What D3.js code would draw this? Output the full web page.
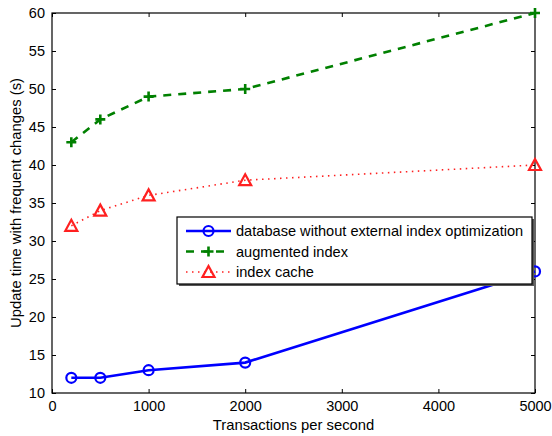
<!DOCTYPE html>
<html>
<head>
<meta charset="utf-8">
<script src="https://cdn.jsdelivr.net/npm/d3@7"></script>
<style>
  body { margin: 0; background: #fff; }
  text { font-family: "Liberation Sans", Arial, sans-serif; fill: #000; }
</style>
</head>
<body>
<script>
const xValues = [200, 500, 1000, 2000, 5000];
const dbNoOpt = [12, 12, 13, 14, 26];
const augmented = [43, 46, 49, 50, 60];
const indexCache = [32, 34, 36, 38, 40];
const xTicks = [0, 1000, 2000, 3000, 4000, 5000];
const yTicks = [10, 15, 20, 25, 30, 35, 40, 45, 50, 55, 60];
const seriesNames = ["database without external index optimization", "augmented index", "index cache"];

const svgWidth = 552, svgHeight = 436;
const margin = {top: 13, right: 17, bottom: 43, left: 52};
const chartWidth = svgWidth - margin.left - margin.right;
const chartHeight = svgHeight - margin.top - margin.bottom;

const svg = d3.select("body").append("svg")
    .attr("width", svgWidth)
    .attr("height", svgHeight);

const g = svg.append("g")
    .attr("transform", `translate(${margin.left},${margin.top})`);

const x = d3.scaleLinear().domain([0, 5000]).range([0, chartWidth]);
const y = d3.scaleLinear().domain([10, 60]).range([chartHeight, 0]);

// axes, ticks pointing inward on all four sides
function styleAxis(sel) {
    sel.select(".domain").remove();
    sel.selectAll("line").attr("stroke", "#000");
    sel.selectAll("text").style("font-size", "14.5px");
}
g.append("g").attr("transform", `translate(0,${chartHeight})`)
    .call(d3.axisBottom(x).tickValues(xTicks).tickSizeInner(-4).tickPadding(8).tickFormat(d3.format("d")))
    .call(styleAxis);
g.append("g")
    .call(d3.axisLeft(y).tickValues(yTicks).tickSizeInner(-4).tickPadding(7))
    .call(styleAxis);
g.append("g")
    .call(d3.axisTop(x).tickValues(xTicks).tickSizeInner(-4).tickFormat(""))
    .call(styleAxis);
g.append("g").attr("transform", `translate(${chartWidth},0)`)
    .call(d3.axisRight(y).tickValues(yTicks).tickSizeInner(-4).tickFormat(""))
    .call(styleAxis);

g.append("rect")
    .attr("width", chartWidth).attr("height", chartHeight)
    .attr("fill", "none").attr("stroke", "#000").attr("stroke-width", 1.2);

const series = [
    {name: seriesNames[0], values: dbNoOpt, color: "#0000ff", dash: null, marker: "circle"},
    {name: seriesNames[1], values: augmented, color: "#008000", dash: "8,7", marker: "plus"},
    {name: seriesNames[2], values: indexCache, color: "#ff2020", dash: "1.5,4.5", marker: "triangle"}
];

const line = d3.line().x((d, i) => x(xValues[i])).y(d => y(d));

function drawMarker(sel, type, color) {
    if (type === "circle") {
        sel.append("circle").attr("r", 5)
            .attr("fill", "none").attr("stroke", color).attr("stroke-width", 2.2);
    } else if (type === "plus") {
        sel.append("path").attr("d", "M-5,0H5M0,-5V5")
            .attr("stroke", color).attr("stroke-width", 2.6);
    } else {
        sel.append("path").attr("d", "M0,-6L6,5H-6Z")
            .attr("fill", "none").attr("stroke", color).attr("stroke-width", 2.2)
            .attr("stroke-linejoin", "miter");
    }
}

series.forEach(s => {
    g.append("path")
        .datum(s.values)
        .attr("d", line)
        .attr("fill", "none")
        .attr("stroke", s.color)
        .attr("stroke-width", s.marker === "triangle" ? 1.6 : 2.6)
        .attr("stroke-dasharray", s.dash);
    g.selectAll(null)
        .data(s.values)
        .join("g")
        .attr("transform", (d, i) => `translate(${x(xValues[i])},${y(d)})`)
        .each(function() { drawMarker(d3.select(this), s.marker, s.color); });
});

// legend
const legend = svg.append("g").attr("transform", "translate(177,217)");
legend.append("rect")
    .attr("x", 2).attr("y", 2).attr("width", 355).attr("height", 67)
    .attr("fill", "#555");
legend.append("rect")
    .attr("width", 355).attr("height", 67)
    .attr("fill", "#fff").attr("stroke", "#000").attr("stroke-width", 1.2);

series.forEach((s, i) => {
    const row = legend.append("g").attr("transform", `translate(0,${14 + i * 20.5})`);
    row.append("line")
        .attr("x1", 9).attr("x2", 54)
        .attr("stroke", s.color)
        .attr("stroke-width", s.marker === "triangle" ? 1.6 : 2.6)
        .attr("stroke-dasharray", s.dash);
    const m = row.append("g").attr("transform", "translate(31.5,0)");
    drawMarker(m, s.marker, s.color);
    row.append("text")
        .attr("x", 59).attr("dy", "0.35em")
        .style("font-size", "14.6px")
        .text(s.name);
});

// axis labels
svg.append("text")
    .attr("x", margin.left + chartWidth / 2).attr("y", 430)
    .attr("text-anchor", "middle")
    .style("font-size", "14.8px")
    .text("Transactions per second");
svg.append("text")
    .attr("transform", `translate(21,${margin.top + chartHeight / 2}) rotate(-90)`)
    .attr("text-anchor", "middle")
    .style("font-size", "14.8px")
    .text("Update time with frequent changes (s)");
</script>
</body>
</html>
